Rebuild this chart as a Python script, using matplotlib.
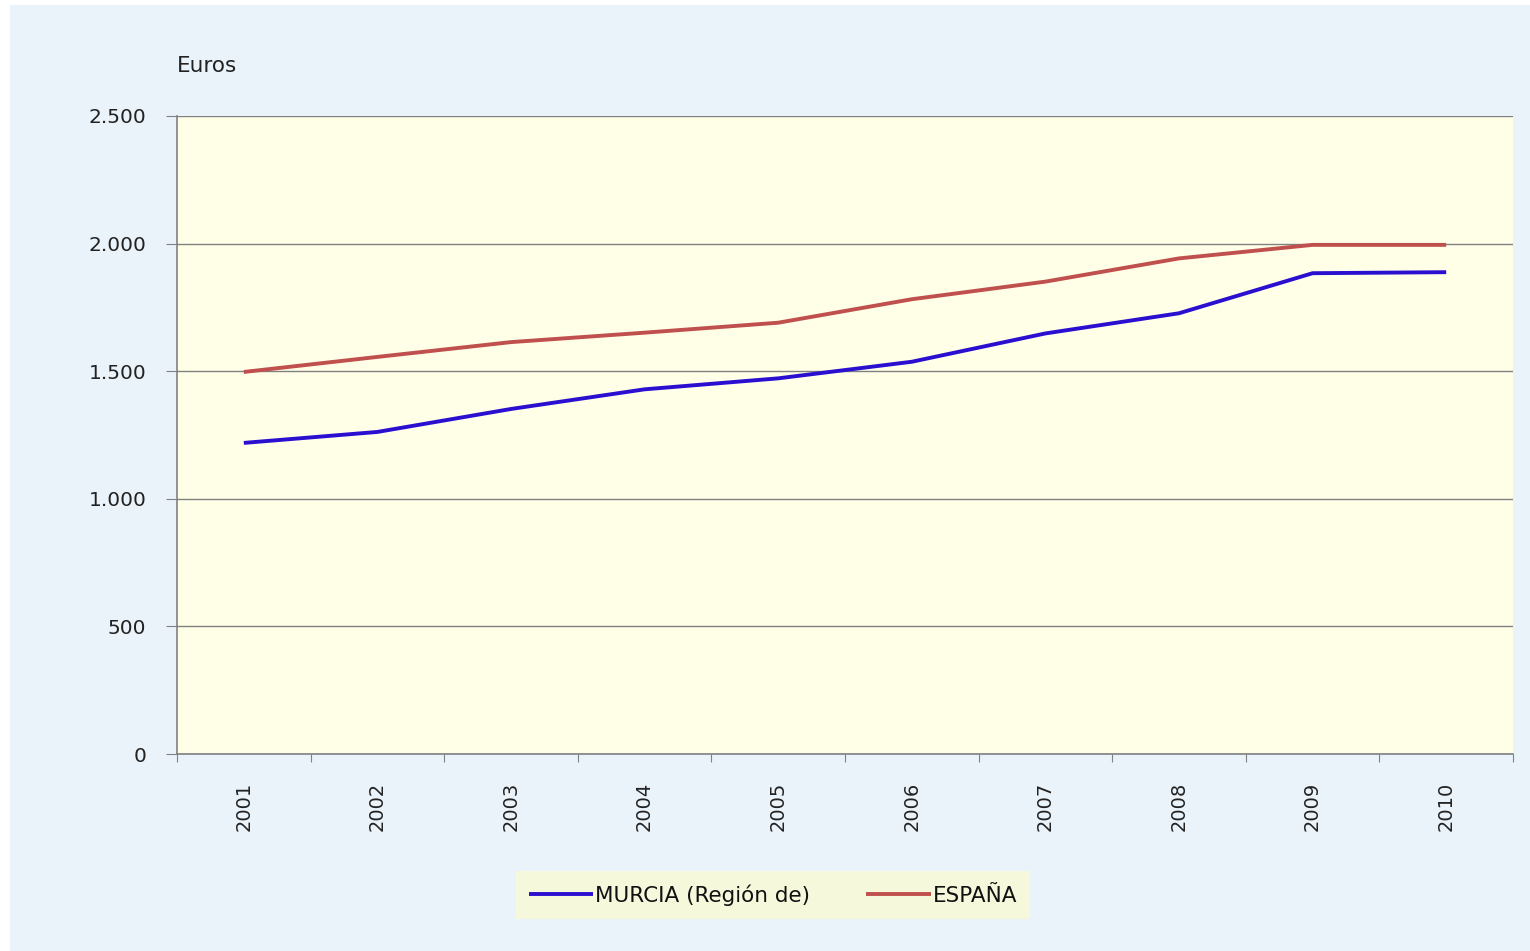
import matplotlib.pyplot as plt
from matplotlib.patches import Rectangle
from matplotlib.ticker import FuncFormatter

years = ['2001', '2002', '2003', '2004', '2005', '2006', '2007', '2008', '2009', '2010']
murcia = [1219, 1262, 1352, 1429, 1472, 1537, 1648, 1727, 1884, 1888]
espana = [1497, 1556, 1614, 1651, 1690, 1782, 1851, 1942, 1995, 1995]

fig = plt.figure(figsize=(15.3, 9.51), dpi=100)
fig.patch.set_facecolor('white')
fig.patches.append(Rectangle((10 / 1530, 0), 1 - 10 / 1530, 1 - 5 / 951,
                             transform=fig.transFigure, facecolor='#ebf3fa',
                             edgecolor='none', zorder=-10))

ax = fig.add_axes([177 / 1530, 1 - 754 / 951, (1513 - 177) / 1530, (754 - 116) / 951])
ax.set_facecolor('#ffffe8')

x = range(len(years))
ax.plot(x, murcia, color='#2a0fd0', lw=2.8, label='MURCIA (Región de)', solid_capstyle='butt')
ax.plot(x, espana, color='#c0504d', lw=2.8, label='ESPAÑA', solid_capstyle='butt')

ax.set_xlim(-0.5, len(years) - 0.5)
ax.set_ylim(0, 2500)
ax.set_yticks([0, 500, 1000, 1500, 2000, 2500])
ax.yaxis.set_major_formatter(FuncFormatter(lambda v, p: f'{int(v):,}'.replace(',', '.')))
ax.yaxis.grid(True, color='#808080', lw=1)
ax.set_axisbelow(True)

ax.set_xticks([i - 0.5 for i in range(len(years) + 1)])
ax.set_xticklabels([])
ax.set_xticks(list(x), minor=True)
ax.set_xticklabels(years, minor=True, rotation=90)
ax.tick_params(axis='x', which='minor', length=0, pad=20, labelsize=14, labelcolor='#222222')
ax.tick_params(axis='x', which='major', length=6, color='#808080')
ax.tick_params(axis='y', length=8, color='#808080', labelsize=14.5, pad=14, labelcolor='#222222')

for s in ['top', 'right']:
    ax.spines[s].set_visible(False)
for s in ['left', 'bottom']:
    ax.spines[s].set_color('#808080')
    ax.spines[s].set_linewidth(1.2)

fig.text(177 / 1530, 1 - 66 / 951, 'Euros', fontsize=15.5, va='center', color='#222222')

leg = fig.legend(loc='center', bbox_to_anchor=(773 / 1530, 1 - 895 / 951), ncol=2,
                 frameon=True, fontsize=15.5, handlelength=3.0, handletextpad=0.1,
                 columnspacing=2.6, borderpad=0.6, borderaxespad=0, fancybox=False)
leg.get_frame().set_facecolor('#f6f8dc')
leg.get_frame().set_edgecolor('none')
leg.get_frame().set_alpha(1)
for t in leg.get_texts():
    t.set_color('#111111')

fig.savefig('out.png', dpi=100)
